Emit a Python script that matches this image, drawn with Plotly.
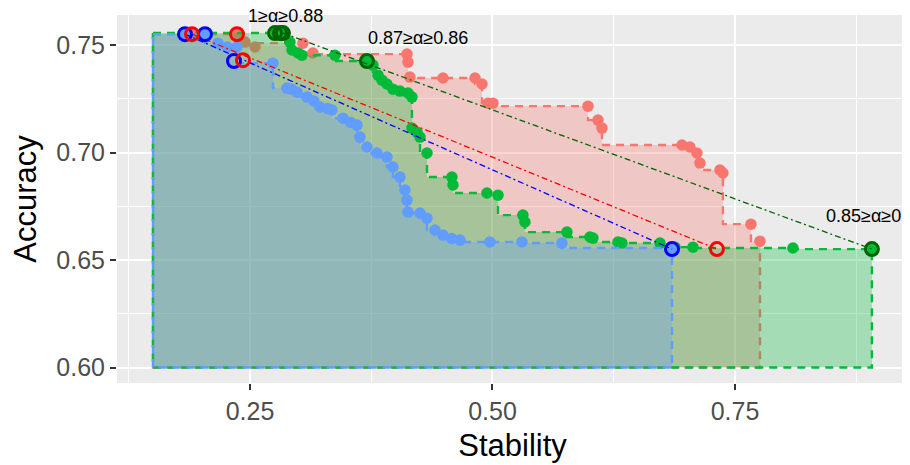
import plotly.graph_objects as go

# ---------------- data ----------------
blue_x = [0.1830, 0.2036, 0.2170, 0.2263, 0.2366, 0.2737, 0.2881, 0.2930, 0.2985, 0.3088,
          0.3160, 0.3222, 0.3300, 0.3345, 0.3459, 0.3540, 0.3603, 0.3634, 0.3706, 0.3809,
          0.3912, 0.3974, 0.4046, 0.4098, 0.4119, 0.4129, 0.4253, 0.4325, 0.4407, 0.4490,
          0.4580, 0.4665, 0.4974, 0.5304, 0.5716, 0.6851]
blue_y = [0.7551, 0.7551, 0.7509, 0.7491, 0.7491, 0.7416, 0.7300, 0.7295, 0.7281, 0.7258,
          0.7240, 0.7212, 0.7205, 0.7198, 0.7160, 0.7140, 0.7128, 0.7072, 0.7026, 0.6998,
          0.6979, 0.6933, 0.6886, 0.6826, 0.6779, 0.6723, 0.6719, 0.6695, 0.6640, 0.6616,
          0.6600, 0.6593, 0.6584, 0.6584, 0.6579, 0.6556]

red_x = [0.1902, 0.2366, 0.2449, 0.2552, 0.3046, 0.3149, 0.4119, 0.4129, 0.4149, 0.4490,
         0.4820, 0.4892, 0.4954, 0.5005, 0.5985, 0.6088, 0.6129, 0.6954, 0.7036, 0.7108,
         0.7139, 0.7345, 0.7376, 0.7665, 0.7758]
red_y = [0.7551, 0.7551, 0.7514, 0.7491, 0.7509, 0.7463, 0.7458, 0.7421, 0.7351, 0.7347,
         0.7347, 0.7319, 0.7230, 0.7230, 0.7216, 0.7151, 0.7114, 0.7035, 0.7026, 0.6998,
         0.6951, 0.6919, 0.6905, 0.6667, 0.6588]

green_x = [0.2758, 0.2809, 0.2840, 0.2912, 0.2933, 0.2995, 0.3036, 0.3376, 0.3706, 0.3768,
           0.3820, 0.3861, 0.3912, 0.3974, 0.4046, 0.4129, 0.4170, 0.4170, 0.4222, 0.4253,
           0.4325, 0.4582, 0.4593, 0.4943, 0.5057, 0.5314, 0.5335, 0.5768, 0.6005, 0.6036,
           0.6294, 0.6335, 0.6727, 0.6881, 0.7067, 0.8098, 0.8912]
green_y = [0.7556, 0.7556, 0.7556, 0.7514, 0.7477, 0.7463, 0.7453, 0.7453, 0.7426, 0.7407,
           0.7360, 0.7337, 0.7319, 0.7295, 0.7286, 0.7277, 0.7258, 0.7114, 0.7095, 0.7072,
           0.6998, 0.6886, 0.6849, 0.6812, 0.6802, 0.6709, 0.6677, 0.6630, 0.6607, 0.6602,
           0.6584, 0.6579, 0.6579, 0.6560, 0.6560, 0.6556, 0.6551]

# highlighted (circled) solutions
blue_sel_x = [0.1830, 0.2036, 0.2335, 0.6851]
blue_sel_y = [0.7551, 0.7551, 0.7426, 0.6551]
red_sel_x = [0.1902, 0.2366, 0.2428, 0.7314]
red_sel_y = [0.7551, 0.7551, 0.7430, 0.6551]
green_sel_x = [0.2758, 0.2809, 0.2840, 0.3706, 0.8912]
green_sel_y = [0.7556, 0.7556, 0.7556, 0.7426, 0.6551]

area_left = 0.15
area_bottom = 0.60

labels = ["1≥α≥0.88", "0.87≥α≥0.86", "0.85≥α≥0"]
label_x = [0.287, 0.423, 0.883]
label_y = [0.7634, 0.7533, 0.6707]

x_ticks = [0.25, 0.50, 0.75]
y_ticks = [0.60, 0.65, 0.70, 0.75]

FONT = "Liberation Sans, Arial, sans-serif"

# ---------------- helpers ----------------
def pareto(xs, ys):
    pts = sorted(zip(xs, ys), key=lambda p: (-p[0], -p[1]))
    front, best = [], -1e9
    for px, py in pts:
        if py > best:
            front.append((px, py))
            best = py
    return front[::-1]

def area_path(xs, ys):
    f = pareto(xs, ys)
    px = [area_left, f[0][0]]
    py = [f[0][1], f[0][1]]
    for i in range(1, len(f)):
        px += [f[i - 1][0], f[i][0]]
        py += [f[i][1], f[i][1]]
    px += [f[-1][0], area_left, area_left]
    py += [area_bottom, area_bottom, f[0][1]]
    return px, py

C_RED = "#F8766D"
C_GREEN = "#00BA38"
C_BLUE = "#619CFF"
FILL = {C_RED: "rgba(248,118,109,0.3)", C_GREEN: "rgba(0,186,56,0.3)",
        C_BLUE: "rgba(97,156,255,0.3)"}

fig = go.Figure()
for xs, ys, col in [(red_x, red_y, C_RED), (green_x, green_y, C_GREEN),
                    (blue_x, blue_y, C_BLUE)]:
    ax, ay = area_path(xs, ys)
    fig.add_trace(go.Scatter(x=ax, y=ay, mode="lines", fill="toself",
                             fillcolor=FILL[col],
                             line=dict(color=col, width=2.4, dash="8px,6px"),
                             hoverinfo="skip", showlegend=False))
    fig.add_trace(go.Scatter(x=xs, y=ys, mode="markers",
                             marker=dict(color=col, size=11.5, line=dict(width=0)),
                             showlegend=False))

# dash-dot connectors between the first and last highlighted solution
for x0, y0, x1, y1, col in [(blue_sel_x[0], blue_sel_y[0], blue_sel_x[-1], blue_sel_y[-1], "#0000FF"),
                            (red_sel_x[0], red_sel_y[0], red_sel_x[-1], red_sel_y[-1], "#FF0000"),
                            (green_sel_x[2], green_sel_y[2], green_sel_x[-1], green_sel_y[-1], "#006400")]:
    fig.add_trace(go.Scatter(x=[x0, x1], y=[y0, y1], mode="lines",
                             line=dict(color=col, width=1.3, dash="6px,3px,2px,3px"),
                             showlegend=False))

for sx, sy, col in [(blue_sel_x, blue_sel_y, "#0000FF"),
                    (red_sel_x, red_sel_y, "#FF0000"),
                    (green_sel_x, green_sel_y, "#006400")]:
    fig.add_trace(go.Scatter(x=sx, y=sy, mode="markers",
                             marker=dict(symbol="circle-open", size=13, color=col,
                                         line=dict(width=3, color=col)),
                             showlegend=False))

for t, lx, ly in zip(labels, label_x, label_y):
    fig.add_annotation(x=lx, y=ly, xref="x", yref="y", text=t, showarrow=False,
                       font=dict(family=FONT, size=18, color="black"))

axis_common = dict(showgrid=True, gridcolor="white", gridwidth=2, zeroline=False,
                   ticks="outside", ticklen=6, tickwidth=2, tickcolor="#333333",
                   tickfont=dict(family=FONT, size=25, color="#4D4D4D"),
                   showline=False)

# the page body has an 8px margin; margins below compensate for it
fig.update_layout(
    width=910, height=465,
    margin=dict(l=109, r=10, t=7, b=90),
    paper_bgcolor="white", plot_bgcolor="#EBEBEB",
    xaxis=dict(range=[0.1129, 0.9284], tickvals=x_ticks,
               ticktext=[f"{v:.2f}" for v in x_ticks],
               minor=dict(showgrid=True, gridcolor="white", gridwidth=1,
                          tickvals=[0.125, 0.375, 0.625, 0.875]),
               title=dict(text="Stability", standoff=10,
                          font=dict(family=FONT, size=31, color="black")),
               ticklabelstandoff=0,
               **axis_common),
    yaxis=dict(range=[0.5928, 0.764], tickvals=y_ticks,
               ticktext=[f"{v:.2f}" for v in y_ticks],
               minor=dict(showgrid=True, gridcolor="white", gridwidth=1,
                          tickvals=[0.625, 0.675, 0.725]),
               title=dict(text="Accuracy", standoff=14,
                          font=dict(family=FONT, size=31, color="black")),
               ticklabelstandoff=0,
               **axis_common),
)

fig.write_html("out.html")
